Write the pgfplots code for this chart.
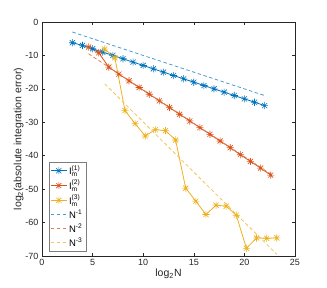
\documentclass[border=0pt]{standalone}
\usepackage{fontspec}
\setmainfont{Liberation Sans}
\usepackage{amsmath}
\usepackage{pgfplots}
\pgfplotsset{compat=1.18}
\definecolor{mblue}{rgb}{0,0.447,0.741}
\definecolor{morange}{rgb}{0.85,0.325,0.098}
\definecolor{myellow}{rgb}{0.929,0.694,0.125}
\definecolor{axgray}{rgb}{0.15,0.15,0.15}
\pgfdeclareplotmark{mstar}{%
 \pgfpathmoveto{\pgfqpoint{-\pgfplotmarksize}{0pt}}\pgfpathlineto{\pgfqpoint{\pgfplotmarksize}{0pt}}%
 \pgfpathmoveto{\pgfqpoint{0pt}{-\pgfplotmarksize}}\pgfpathlineto{\pgfqpoint{0pt}{\pgfplotmarksize}}%
 \pgfpathmoveto{\pgfqpoint{-.707\pgfplotmarksize}{-.707\pgfplotmarksize}}\pgfpathlineto{\pgfqpoint{.707\pgfplotmarksize}{.707\pgfplotmarksize}}%
 \pgfpathmoveto{\pgfqpoint{-.707\pgfplotmarksize}{.707\pgfplotmarksize}}\pgfpathlineto{\pgfqpoint{.707\pgfplotmarksize}{-.707\pgfplotmarksize}}%
 \pgfusepathqstroke}
\begin{document}
\begin{tikzpicture}
\begin{axis}[
  scale only axis, width=253pt, height=234pt,
  xmin=0, xmax=25, ymin=-70, ymax=0,
  xtick={0,5,...,25}, ytick={-70,-60,...,0},
  tick align=inside, major tick length=3pt,
  axis line style={axgray, line width=0.5pt},
  every tick/.style={axgray, line width=0.5pt},
  tick label style={font=\fontsize{9}{10}\selectfont, text=axgray},
  /pgf/number format/assume math mode=true,
  label style={font=\fontsize{10.5}{12}\selectfont, text=axgray},
  xlabel={log$_{\text{2}}$N},
  ylabel={log$_{\text{2}}$(absolute integration error)},
  xlabel style={yshift=4pt},
  ylabel style={yshift=-5pt},
  legend style={at={(rel axis cs:0.027,0.02)}, anchor=south west, draw=axgray!60, line width=0.5pt,
    font=\fontsize{9.5}{11}\selectfont, inner sep=1.5pt, row sep=0pt,
    legend cell align=left},
  legend image code/.code={\draw[#1] (0cm,0cm) -- (0.55cm,0cm); \draw[#1, mark repeat=1, mark phase=1] plot coordinates {(0.275cm,0cm)};},
  clip=true,
]
\coordinate (bl) at (rel axis cs:0,0);
\coordinate (tr) at (rel axis cs:1,1);
\addplot[mblue, line width=0.8pt, mark=mstar, mark size=3.6pt, mark options={solid, line width=0.6pt}] coordinates {
(3,-6.2)(4,-7)(5,-8)(6,-9)(7,-10)(8,-11)(9,-12)(10,-13)(11,-14)(12,-15)(13,-16)(14,-17)(15,-18)(16,-19)(17,-20)(18,-21)(19,-22)(20,-23)(21,-24)(22,-25)};
\addlegendentry{I$^{\text{(1)}}_{\text{m}}$}
\addplot[morange, line width=0.8pt, mark=mstar, mark size=3.6pt, mark options={solid, line width=0.6pt}] coordinates {
(4.6,-7.5)(5.6,-9.2)(6.6,-13.5)(7.6,-15.6)(8.6,-17.6)(9.6,-19.6)(10.6,-21.6)(11.6,-23.6)(12.6,-25.6)(13.6,-27.6)(14.6,-29.6)(15.6,-31.6)(16.6,-33.6)(17.6,-35.6)(18.6,-37.6)(19.6,-39.7)(20.6,-41.7)(21.6,-43.7)(22.6,-45.8)};
\addlegendentry{I$^{\text{(2)}}_{\text{m}}$}
\addplot[myellow, line width=0.8pt, mark=mstar, mark size=3.6pt, mark options={solid, line width=0.6pt}] coordinates {
(6.2,-8.1)(7.2,-10.7)(8.2,-26.5)(9.2,-30.4)(10.2,-34.1)(11.2,-32.2)(12.2,-32.5)(13.2,-35.3)(14.2,-49.7)(15.2,-53.6)(16.2,-57.6)(17.2,-54.8)(18.2,-55.1)(19.2,-57.8)(20.2,-67.7)(21.2,-64.6)(22.2,-64.7)(23.2,-64.6)};
\addlegendentry{I$^{\text{(3)}}_{\text{m}}$}
\addplot[mblue!70!white, line width=0.8pt, dash pattern=on 3.5pt off 2.5pt] coordinates {(3,-3)(22,-22)};
\addlegendentry{N$^{\text{-1}}$}
\addplot[morange!75!white, line width=0.8pt, dash pattern=on 3.5pt off 2.5pt] coordinates {(4.6,-9.5)(22.6,-45.5)};
\addlegendentry{N$^{\text{-2}}$}
\addplot[myellow!75!white, line width=0.8pt, dash pattern=on 3.5pt off 2.5pt] coordinates {(6.2,-18.5)(23.2,-69.5)};
\addlegendentry{N$^{\text{-3}}$}
\end{axis}
\path[use as bounding box] ([xshift=-42pt,yshift=-32pt]bl) rectangle ([xshift=32pt,yshift=22pt]tr);
\end{tikzpicture}
\end{document}
